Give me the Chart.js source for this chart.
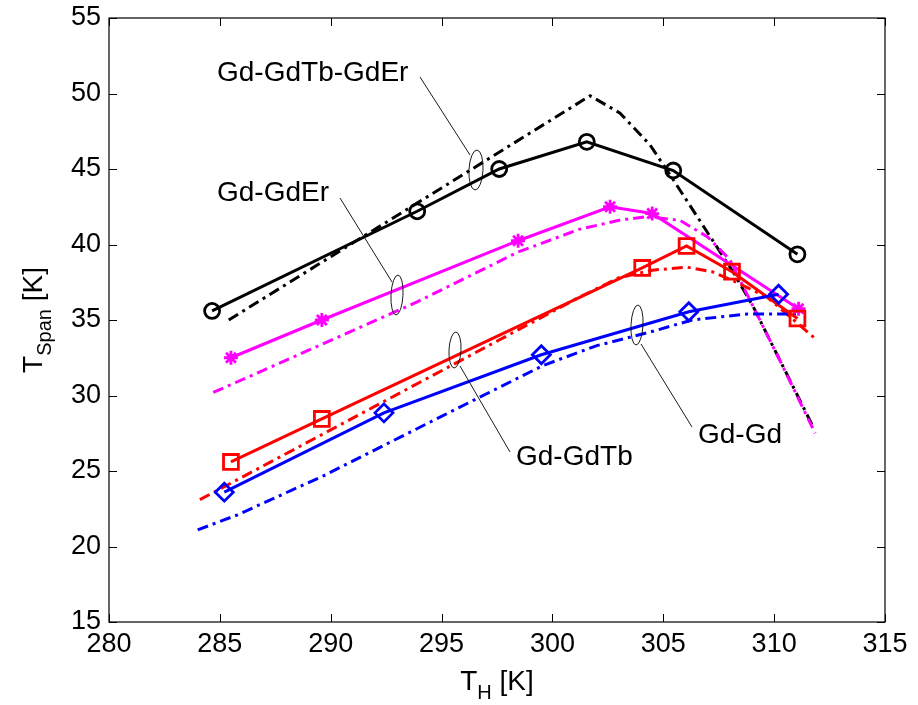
<!DOCTYPE html>
<html>
<head>
<meta charset="utf-8">
<script src="https://cdn.jsdelivr.net/npm/chart.js@4/dist/chart.umd.min.js"></script>
<style>
html,body{margin:0;padding:0;background:#fff;}
#wrap{width:918px;height:705px;position:relative;}
</style>
</head>
<body>
<div id="wrap"><canvas id="c" width="918" height="705"></canvas></div>
<script>
// ---- data (T_H [K] , T_Span [K]) ----
const xTicks = [280, 285, 290, 295, 300, 305, 310, 315];
const yTicks = [15, 20, 25, 30, 35, 40, 45, 50, 55];

// Gd-GdTb-GdEr (black)
const blackSolidX = [284.65, 293.9, 297.6, 301.55, 305.45, 311.05];
const blackSolidY = [35.6, 42.2, 45.0, 46.8, 44.9, 39.35];
const blackDashX = [285.4, 301.7, 303.05, 304.4, 305.4, 308.1, 309.05, 311.8];
const blackDashY = [35.0, 49.85, 48.7, 46.6, 44.4, 38.3, 35.9, 27.8];

// Gd-GdEr (magenta)
const magSolidX = [285.5, 289.6, 298.45, 302.6, 304.5, 311.1];
const magSolidY = [32.5, 35.0, 40.25, 42.5, 42.05, 35.75];
const magDashX = [284.7, 289.0, 293.9, 298.45, 301.2, 303.0, 304.25, 305.75, 307.0, 308.0, 309.05, 310.3, 311.85];
const magDashY = [30.2, 33.0, 36.2, 39.5, 41.0, 41.6, 41.85, 41.6, 40.5, 39.0, 35.9, 32.2, 27.5];

// Gd-GdTb (red)
const redSolidX = [285.5, 289.6, 304.05, 306.05, 308.1, 311.05];
const redSolidY = [25.6, 28.45, 38.45, 39.9, 38.2, 35.1];
const redDashX = [284.1, 301.2, 303.0, 304.5, 306.05, 307.2, 308.0, 309.7, 311.9];
const redDashY = [23.1, 36.5, 37.8, 38.3, 38.5, 38.2, 37.7, 36.5, 33.7];

// Gd-Gd (blue)
const blueSolidX = [285.2, 292.4, 299.5, 306.15, 310.2];
const blueSolidY = [23.6, 28.85, 32.7, 35.55, 36.7];
const blueDashX = [284.0, 285.8, 289.7, 292.4, 296.6, 299.6, 302.0, 304.4, 306.3, 308.8, 311.0];
const blueDashY = [21.1, 22.1, 24.7, 26.7, 29.8, 32.0, 33.3, 34.2, 35.0, 35.4, 35.4];

// annotation labels
const annoLabels = ["Gd-GdTb-GdEr", "Gd-GdEr", "Gd-GdTb", "Gd-Gd"];

function pts(xs, ys){ return xs.map((x,i)=>({x:x, y:ys[i]})); }

const FONT = '"Liberation Sans", Arial, Helvetica, sans-serif';
const DASH = [11,5,3,5];
function solid(label, xs, ys, color, style, r){
  return {label, data: pts(xs,ys), showLine:true, borderColor:color, backgroundColor:'rgba(0,0,0,0)',
    borderWidth:3, pointStyle:style, pointRadius:r, pointBorderWidth:2.8, pointBorderColor:color,
    pointBackgroundColor:'rgba(0,0,0,0)', tension:0, order:1};
}
function dashed(label, xs, ys, color){
  return {label, data: pts(xs,ys), showLine:true, borderColor:color, borderWidth:3, borderDash:DASH,
    pointRadius:0, tension:0, order:2};
}

const annotations = [
  {text: annoLabels[0], tx:217, ty:73, line:[[420,77],[470,155]], ell:[476,170,7,20]},
  {text: annoLabels[1], tx:217, ty:193, line:[[340,198],[392,282]], ell:[397,295,6,20]},
  {text: annoLabels[2], tx:516, ty:457, line:[[510,452],[460,366]], ell:[455,350,6,18]},
  {text: annoLabels[3], tx:698, ty:435, line:[[692,427],[641,344]], ell:[637,325,6,20]}
];

function subText(ctx, parts, x, y){
  let w = 0;
  parts.forEach(p=>{ ctx.font = p[1]+'px '+FONT; w += ctx.measureText(p[0]).width; });
  let cx = x - w/2;
  parts.forEach(p=>{ ctx.font = p[1]+'px '+FONT; ctx.fillText(p[0], cx, y+p[2]); cx += ctx.measureText(p[0]).width; });
}

const deco = {
  id:'deco',
  afterDraw(chart){
    const ctx = chart.ctx, a = chart.chartArea;
    const xs = chart.scales.x, ys = chart.scales.y;
    ctx.save();
    ctx.strokeStyle = '#000'; ctx.lineWidth = 1.2;
    ctx.strokeRect(a.left, a.top, a.right-a.left, a.bottom-a.top);
    ctx.lineWidth = 1;
    const tl = 8;
    xTicks.forEach(v=>{
      const p = Math.round(xs.getPixelForValue(v))+0.5;
      ctx.beginPath(); ctx.moveTo(p,a.bottom); ctx.lineTo(p,a.bottom-tl);
      ctx.moveTo(p,a.top); ctx.lineTo(p,a.top+tl); ctx.stroke();
    });
    yTicks.forEach(v=>{
      const p = Math.round(ys.getPixelForValue(v))+0.5;
      ctx.beginPath(); ctx.moveTo(a.left,p); ctx.lineTo(a.left+tl,p);
      ctx.moveTo(a.right,p); ctx.lineTo(a.right-tl,p); ctx.stroke();
    });
    ctx.fillStyle = '#000';
    ctx.textBaseline = 'middle'; ctx.textAlign = 'left';
    annotations.forEach(an=>{
      ctx.font = '28px '+FONT;
      ctx.fillText(an.text, an.tx, an.ty);
      ctx.lineWidth = 0.9;
      ctx.beginPath(); ctx.moveTo(an.line[0][0], an.line[0][1]); ctx.lineTo(an.line[1][0], an.line[1][1]); ctx.stroke();
      ctx.beginPath(); ctx.ellipse(an.ell[0], an.ell[1], an.ell[2], an.ell[3], 0.05, 0, Math.PI*2); ctx.stroke();
    });
    ctx.textBaseline = 'alphabetic';
    subText(ctx, [['T',28,0],['H',20,9],[' [K]',28,0]], (a.left+a.right)/2, 690);
    ctx.save();
    ctx.translate(42, (a.top+a.bottom)/2);
    ctx.rotate(-Math.PI/2);
    subText(ctx, [['T',28,0],['Span',20,9],[' [K]',28,0]], 0, 0);
    ctx.restore();
    ctx.restore();
  }
};

new Chart(document.getElementById('c'), {
  type:'scatter',
  data:{datasets:[
    dashed('Gd-Gd sim', blueDashX, blueDashY, '#0000ff'),
    dashed('Gd-GdTb sim', redDashX, redDashY, '#ff0000'),
    dashed('Gd-GdEr sim', magDashX, magDashY, '#ff00ff'),
    dashed('Gd-GdTb-GdEr sim', blackDashX, blackDashY, '#000000'),
    solid('Gd-Gd', blueSolidX, blueSolidY, '#0000ff', 'rectRot', 9),
    solid('Gd-GdTb', redSolidX, redSolidY, '#ff0000', 'rect', 10.5),
    solid('Gd-GdEr', magSolidX, magSolidY, '#ff00ff', 'star', 7),
    solid('Gd-GdTb-GdEr', blackSolidX, blackSolidY, '#000000', 'circle', 7.5)
  ]},
  options:{
    responsive:false, animation:false, devicePixelRatio:1,
    layout:{padding:{left:0, right:33, top:18, bottom:0}},
    plugins:{legend:{display:false}, tooltip:{enabled:false}},
    scales:{
      x:{type:'linear', min:280, max:315,
        afterFit(s){ s.height = 83; s.paddingLeft = 0; s.paddingRight = 0; },
        afterBuildTicks(s){ s.ticks = xTicks.map(v=>({value:v})); },
        grid:{display:false, drawTicks:false}, border:{display:false},
        ticks:{color:'#000', padding:6, font:{family:FONT, size:27}, maxRotation:0}
      },
      y:{type:'linear', min:15, max:55,
        afterFit(s){ s.width = 109; s.paddingTop = 0; s.paddingBottom = 0; },
        afterBuildTicks(s){ s.ticks = yTicks.map(v=>({value:v})); },
        grid:{display:false, drawTicks:false}, border:{display:false},
        ticks:{color:'#000', padding:8, font:{family:FONT, size:27}}
      }
    }
  },
  plugins:[deco]
});
</script>
</body>
</html>
